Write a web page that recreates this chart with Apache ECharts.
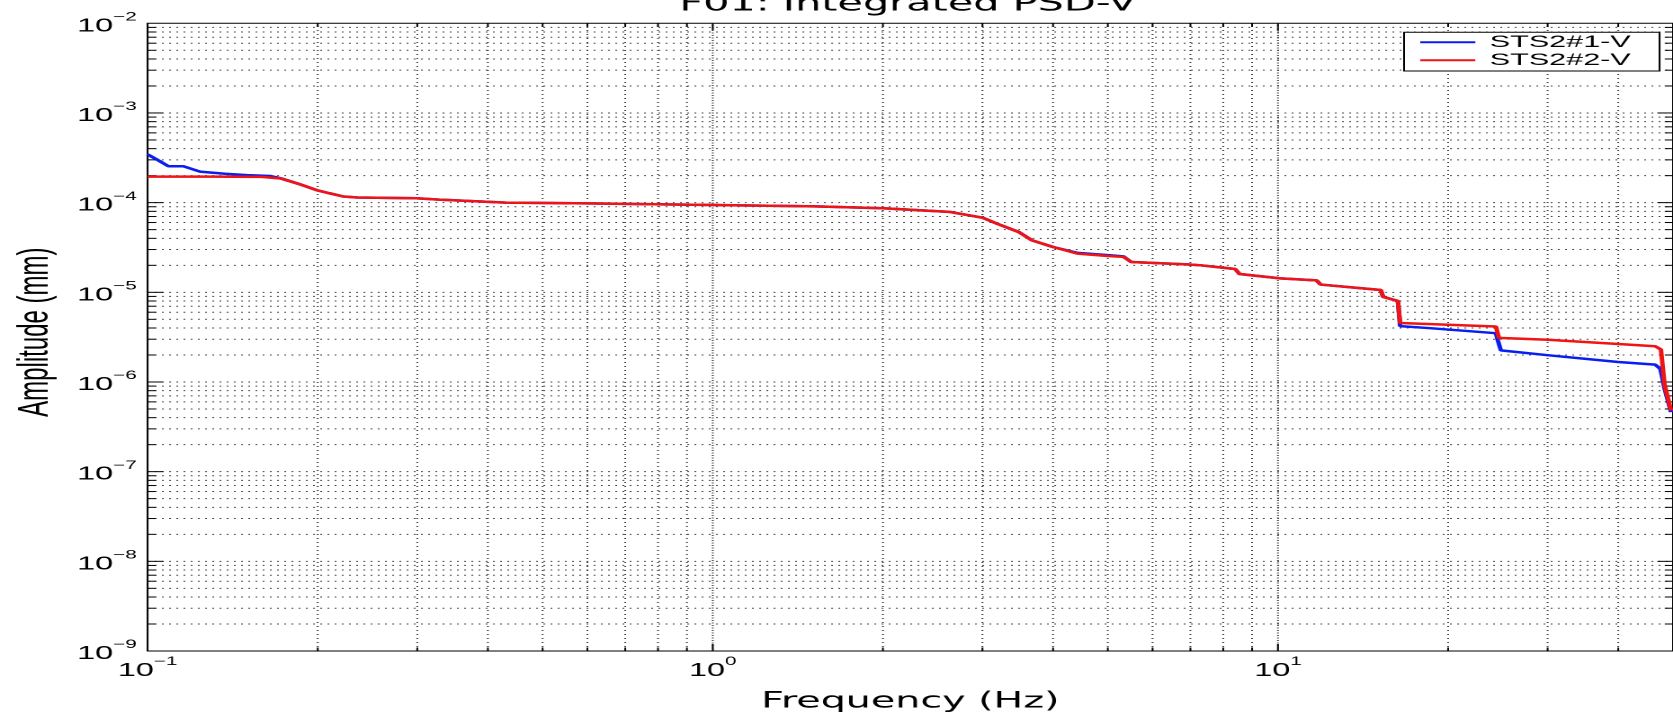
<!DOCTYPE html>
<html>
<head>
<meta charset="utf-8">
<title>F01: Integrated PSD-V</title>
<script src="https://cdn.jsdelivr.net/npm/echarts@6/dist/echarts.min.js"></script>
<style>
  html, body { margin: 0; padding: 0; overflow: hidden; background: #fff; }
  /* the source figure is stretched sideways, so draw it narrow and widen it */
  #chart { width: 930px; height: 718px; transform: scaleX(1.79892); transform-origin: 0 0; }
</style>
</head>
<body>
<div id="chart"></div>
<script>
// STS2#1-V (blue)
const blueFreq = [0.1, 0.1045, 0.1088, 0.1156, 0.1237, 0.137, 0.15, 0.165, 0.172,
  0.185, 0.199, 0.21, 0.222, 0.235, 0.299, 0.328, 0.43, 0.6, 1.0, 1.52, 2.0, 2.62, 3.0,
  3.19, 3.48, 3.67, 4.0, 4.42, 5.0, 5.33, 5.5, 6.9, 7.3, 8.4, 8.55, 10.1, 11.7, 11.9,
  15.2, 15.35, 16.3, 16.45, 18.6, 24.3, 24.5, 24.8, 30.0, 40.0, 46.5, 47.5, 48.3, 49.6];
const blueAmp = [3.45e-4, 2.96e-4, 2.55e-4, 2.55e-4, 2.22e-4, 2.1e-4, 2.03e-4, 1.98e-4, 1.87e-4,
  1.62e-4, 1.38e-4, 1.27e-4, 1.17e-4, 1.14e-4, 1.12e-4, 1.08e-4, 1.0e-4, 9.8e-5, 9.4e-5, 9.1e-5, 8.65e-5, 7.9e-5, 6.8e-5,
  5.8e-5, 4.7e-5, 3.8e-5, 3.2e-5, 2.75e-5, 2.6e-5, 2.52e-5, 2.18e-5, 2.05e-5, 2.0e-5, 1.82e-5, 1.6e-5, 1.43e-5, 1.36e-5, 1.22e-5,
  1.06e-5, 8.9e-6, 8.0e-6, 4.2e-6, 3.98e-6, 3.5e-6, 2.9e-6, 2.25e-6, 1.99e-6, 1.67e-6, 1.56e-6, 1.4e-6, 8.5e-7, 4.6e-7];

// STS2#2-V (red)
const redFreq = [0.1, 0.13, 0.159, 0.172, 0.185, 0.199, 0.21, 0.222, 0.235, 0.299, 0.328,
  0.43, 0.6, 1.0, 1.52, 2.0, 2.62, 3.0, 3.19, 3.48, 3.67, 4.0, 4.42, 5.0, 5.33, 5.5, 6.9,
  7.3, 8.4, 8.55, 10.1, 11.7, 11.9, 15.2, 15.35, 16.3, 16.45, 24.3, 24.6, 30.0, 40.0,
  46.5, 47.6, 48.3, 49.6];
const redAmp = [1.95e-4, 1.95e-4, 1.94e-4, 1.86e-4, 1.62e-4, 1.38e-4, 1.27e-4, 1.17e-4, 1.14e-4, 1.12e-4, 1.08e-4,
  1.0e-4, 9.8e-5, 9.4e-5, 9.1e-5, 8.65e-5, 7.9e-5, 6.8e-5, 5.8e-5, 4.7e-5, 3.8e-5, 3.2e-5, 2.7e-5, 2.54e-5, 2.48e-5, 2.18e-5, 2.05e-5,
  2.0e-5, 1.82e-5, 1.6e-5, 1.43e-5, 1.36e-5, 1.22e-5, 1.06e-5, 8.9e-6, 8.0e-6, 4.55e-6, 4.16e-6, 3.1e-6, 2.96e-6, 2.65e-6,
  2.5e-6, 2.3e-6, 9.4e-7, 4.8e-7];

const seriesNames = ['STS2#1-V', 'STS2#2-V'];
const xDecades = [0.1, 1, 10];
const yDecades = [1e-9, 1e-8, 1e-7, 1e-6, 1e-5, 1e-4, 1e-3];
const gridSteps = [1, 2, 3, 4, 5, 6, 7, 8, 9];

const X_MIN = 0.1, X_MAX = 50;
const Y_MIN = 1e-9, Y_MAX = 1e-2;

const TICK_FONT = "'Liberation Sans', Arial, sans-serif";
const WIDE_FONT = "'DejaVu Sans', sans-serif";
const gridColor = '#444';

const gridLeft = 77.3, gridRight = -2.1, gridTop = 23.3, gridBottom = 62.5;
const chartWidth = 930;

const blueData = blueFreq.map((f, i) => [f, blueAmp[i]]);
const redData = redFreq.map((f, i) => [f, redAmp[i]]);

// grid line positions, 1..9 of every decade inside the plot
const xLines = [];
xDecades.forEach(d => gridSteps.forEach(k => {
  const v = d * k;
  if (v > X_MIN * 1.001 && v < X_MAX * 0.999) xLines.push([v, Y_MIN, k === 1 ? 1 : 0]);
}));
const yLines = [];
yDecades.forEach(d => gridSteps.forEach(k => {
  const v = d * k;
  if (v > Y_MIN * 1.001 && v < Y_MAX * 0.999) yLines.push([X_MIN, v, k === 1 ? 1 : 0]);
}));

function powerLabel(value) {
  const lg = Math.log10(value);
  const e = Math.round(lg);
  if (Math.abs(lg - e) > 1e-6) return '';
  const txt = e < 0 ? '\u2212' + (-e) : String(e);
  return '{b|10}{s|' + txt + '}';
}

const labelRich = {
  b: { fontFamily: TICK_FONT, fontSize: 18, lineHeight: 24, verticalAlign: 'bottom', color: '#000' },
  s: { fontFamily: TICK_FONT, fontSize: 11.5, lineHeight: 11, verticalAlign: 'top', color: '#000' }
};

function line(x1, y1, x2, y2, style) {
  return { type: 'line', shape: { x1, y1, x2, y2 }, style: style };
}

function renderVertical(params, api) {
  const v = api.value(0);
  const major = api.value(2);
  const p0 = api.coord([v, Y_MIN]);
  const p1 = api.coord([v, Y_MAX]);
  const len = major ? 7 : 3.5;
  const tick = { stroke: '#000', lineWidth: 1 };
  return {
    type: 'group',
    children: [
      line(p0[0], p0[1], p1[0], p1[1], { stroke: gridColor, lineWidth: 1, lineDash: major ? [1, 1.5] : [1, 3] }),
      line(p0[0], p0[1], p0[0], p0[1] - len, tick),
      line(p1[0], p1[1], p1[0], p1[1] + len, tick)
    ]
  };
}

function renderHorizontal(params, api) {
  const v = api.value(1);
  const major = api.value(2);
  const p0 = api.coord([X_MIN, v]);
  const p1 = api.coord([X_MAX, v]);
  const len = major ? 8.7 : 4.6;
  const tick = { stroke: '#000', lineWidth: 1 };
  return {
    type: 'group',
    children: [
      line(p0[0], p0[1], p1[0], p1[1], { stroke: gridColor, lineWidth: 1, lineDash: [1, 3] }),
      line(p0[0], p0[1], p0[0] + len, p0[1], tick),
      line(p1[0], p1[1], p1[0] - len, p1[1], tick)
    ]
  };
}

const chart = echarts.init(document.getElementById('chart'), null, { renderer: 'canvas', devicePixelRatio: 2 });

chart.setOption({
  animation: false,
  backgroundColor: '#fff',
  graphic: [{
    type: 'text',
    x: gridLeft + (chartWidth - gridLeft - gridRight) / 2,
    y: 4.5,
    silent: true,
    style: {
      text: 'F01: Integrated PSD-V',
      fill: '#000',
      fontFamily: WIDE_FONT,
      fontSize: 23,
      align: 'center',
      textAlign: 'center',
      verticalAlign: 'middle',
      textVerticalAlign: 'middle'
    }
  }],
  legend: {
    data: seriesNames,
    orient: 'vertical',
    left: 780.5,
    top: 32.3,
    padding: [1, 16, 1.7, 9],
    itemGap: 0,
    itemWidth: 30.6,
    itemHeight: 2,
    icon: 'rect',
    selectedMode: false,
    backgroundColor: '#fff',
    borderColor: '#000',
    borderWidth: 1,
    borderRadius: 0,
    textStyle: { fontFamily: TICK_FONT, fontSize: 17, lineHeight: 18, color: '#000', padding: [0, 0, 0, 3] }
  },
  grid: {
    left: gridLeft, right: gridRight, top: gridTop, bottom: gridBottom,
    show: true, borderColor: '#000', borderWidth: 1, backgroundColor: 'transparent'
  },
  xAxis: {
    type: 'log',
    logBase: 10,
    min: X_MIN,
    max: X_MAX,
    name: 'Frequency (Hz)',
    nameLocation: 'middle',
    nameGap: 40,
    nameTextStyle: { fontFamily: WIDE_FONT, fontSize: 22, color: '#000' },
    axisLine: { show: false },
    axisTick: { show: false },
    splitLine: { show: false },
    minorTick: { show: false },
    axisLabel: { formatter: powerLabel, rich: labelRich, margin: 5, color: '#000', showMaxLabel: false }
  },
  yAxis: {
    type: 'log',
    logBase: 10,
    min: Y_MIN,
    max: Y_MAX,
    name: 'Amplitude (mm)',
    nameLocation: 'middle',
    nameRotate: 90,
    nameGap: 37,
    nameTextStyle: { fontFamily: TICK_FONT, fontSize: 24, color: '#000', padding: [0, 0, 0, 10] },
    axisLine: { show: false },
    axisTick: { show: false },
    splitLine: { show: false },
    minorTick: { show: false },
    axisLabel: { formatter: powerLabel, rich: labelRich, margin: 6, color: '#000' }
  },
  series: [
    {
      type: 'custom',
      silent: true,
      z: 1,
      coordinateSystem: 'cartesian2d',
      encode: { x: 0, y: 1 },
      renderItem: renderVertical,
      data: xLines
    },
    {
      type: 'custom',
      silent: true,
      z: 1,
      coordinateSystem: 'cartesian2d',
      encode: { x: 0, y: 1 },
      renderItem: renderHorizontal,
      data: yLines
    },
    {
      name: seriesNames[0],
      type: 'line',
      data: blueData,
      symbol: 'none',
      z: 3,
      lineStyle: { color: '#0a1ef0', width: 2.5 },
      itemStyle: { color: '#0a1ef0' }
    },
    {
      name: seriesNames[1],
      type: 'line',
      data: redData,
      symbol: 'none',
      z: 3,
      lineStyle: { color: '#f01414', width: 2.5 },
      itemStyle: { color: '#f01414' }
    }
  ]
});
</script>
</body>
</html>
